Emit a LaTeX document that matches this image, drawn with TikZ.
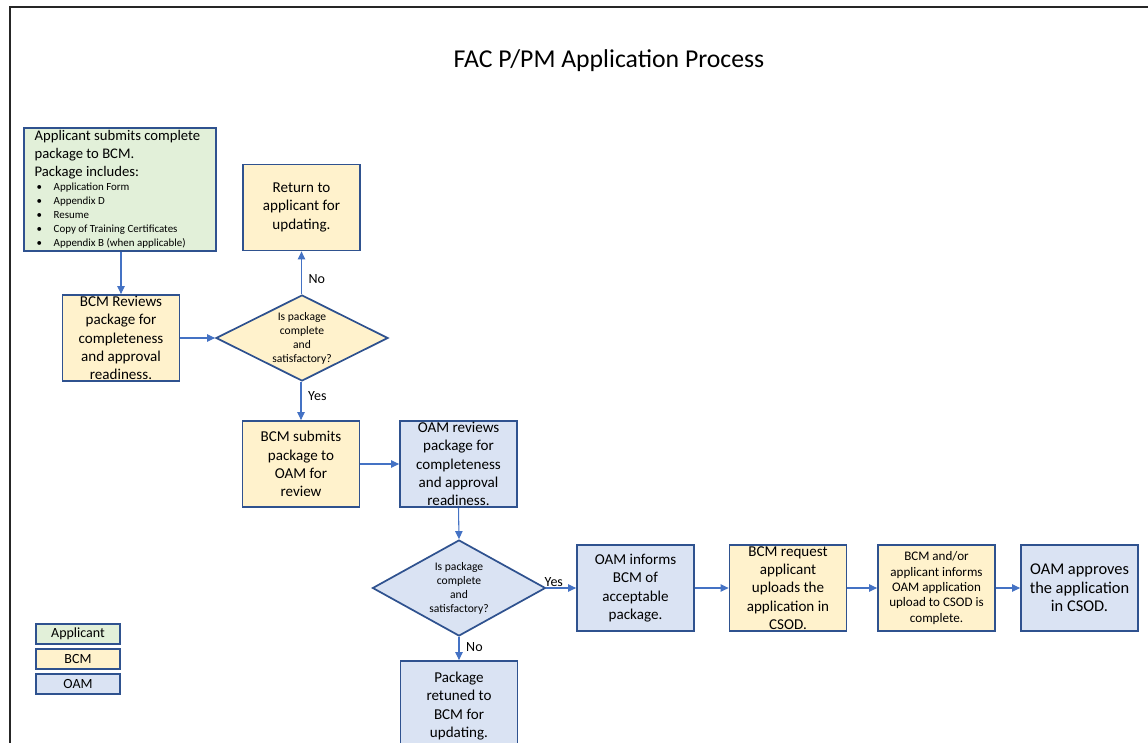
\documentclass[tikz,border=0pt]{standalone}
\usepackage{fontspec}
\setmainfont{Carlito}
\usepackage{tikz}
\usetikzlibrary{arrows.meta}
\usetikzlibrary{positioning}
\usetikzlibrary{shapes.geometric}

\definecolor{edgeblue}{HTML}{2F528F}
\definecolor{arrowblue}{HTML}{4472C4}
\definecolor{applgreen}{HTML}{E2F0D9}
\definecolor{bcmyellow}{HTML}{FFF2CC}
\definecolor{oamblue}{HTML}{DAE3F3}
\newcommand\bul{\makebox[14.3pt][l]{\hspace{1.5pt}\textbullet}}

\begin{document}
\begin{tikzpicture}[x=0.75pt,y=-0.75pt,
  box/.style={draw=edgeblue,line width=1.3pt,minimum width=87.75pt,minimum height=64.5pt,inner xsep=1pt,inner ysep=0pt,align=center,font=\fontsize{11.3}{13.7}\selectfont},
  dec/.style={draw=edgeblue,line width=1.3pt,diamond,shape aspect=2,inner sep=0pt,align=center,font=\fontsize{8.7}{10.5}\selectfont},
  keybox/.style={draw=edgeblue,line width=1.3pt,minimum width=63pt,minimum height=15pt,inner sep=0pt,font=\fontsize{10.5}{12}\selectfont},
  arr/.style={draw=arrowblue,line width=0.8pt,-{Triangle[length=6pt,width=5.5pt]}},
  ans/.style={font=\fontsize{10.5}{12}\selectfont,inner sep=2pt}]
\useasboundingbox (0,0) rectangle (1148,742);
\draw[line width=1.2pt,black!85] (10,760) -- (10,7) -- (1160,7);

\node (title) at (609,61)[font=\fontsize{19.3}{23}\selectfont]{FAC P/PM Application Process};

% applicant and BCM part
\node (app) at (120,189.5)[box,fill=applgreen,minimum width=144pt,minimum height=92.25pt,text width=128pt,inner xsep=8pt,align=flush left,font=\fontsize{11}{13.5}\selectfont]{Applicant submits complete\\package to BCM.\\Package includes:\par
{\fontsize{8.2}{10.5}\selectfont\raggedright\bul Application Form\\\bul Appendix D\\\bul Resume\\\bul Copy of Training Certificates\\\bul Appendix B (when applicable)\par}};
\node (ret) at (301.5,207.5)[box,fill=bcmyellow]{Return to\\applicant for\\updating.\rule[-2.2pt]{0pt}{0pt}};
\node (rev) at (121,338)[box,fill=bcmyellow]{BCM Reviews\\package for\\completeness\\and approval\\readiness.};
\node (chk1) at (302,338)[dec,fill=bcmyellow,minimum width=129pt,minimum height=64.5pt]{Is package\\complete\\and\\satisfactory?};
\node (sub) at (301,464)[box,fill=bcmyellow]{BCM submits\\package to\\OAM for\\review};

% OAM part
\node (oamrev) at (458.5,464)[box,fill=oamblue]{OAM reviews\\package for\\completeness\\and approval\\readiness.};
\node (chk2) at (459,588)[dec,fill=oamblue,minimum width=129.75pt,minimum height=72pt]{Is package\\complete\\and\\satisfactory?};
\node (back) at (459,706)[box,fill=oamblue,minimum height=67.5pt]{Package\\retuned to\\BCM for\\updating.};
\node (inf) at (635.5,588)[box,fill=oamblue]{OAM informs\\BCM of\\acceptable\\package.};
\node (req) at (788,588)[box,fill=bcmyellow]{BCM request\\applicant\\uploads the\\application in\\CSOD.};
\node (upl) at (936.5,588)[box,fill=bcmyellow,font=\fontsize{9.8}{11.6}\selectfont]{BCM and/or\\applicant informs\\OAM application\\upload to CSOD is\\complete.};
\node (appr) at (1079.5,588)[box,fill=oamblue,font=\fontsize{12.3}{13.7}\selectfont]{OAM approves\\the application\\in CSOD.};

% legend
\node (k1) at (78,634)[keybox,fill=applgreen]{Applicant};
\node (k2) at (78,659)[keybox,fill=bcmyellow]{BCM};
\node (k3) at (78,684)[keybox,fill=oamblue]{OAM};

\draw[arr](app.south -| rev.north)--(rev.north);
\draw[arr](rev)--(chk1);
\draw[arr](chk1.north -| ret.south)--node[ans,pos=0.35,right=3pt](no1){No}(ret.south);
\draw[arr](chk1.south -| sub.north)--node[ans,pos=0.375,right=3pt](yes1){Yes}(sub.north);
\draw[arr](sub)--(oamrev);
\draw[arr](oamrev.south)--(chk2.north);
\draw[arr](chk2.east)--node[ans,pos=0.25,above=-1pt](yes2){Yes}(inf.west);
\draw[arr](chk2.south)--node[ans,pos=0.44,right=3pt](no2){No}(back.north);
\draw[arr](inf)--(req);
\draw[arr](req)--(upl);
\draw[arr](upl)--(appr);
\end{tikzpicture}
\end{document}
